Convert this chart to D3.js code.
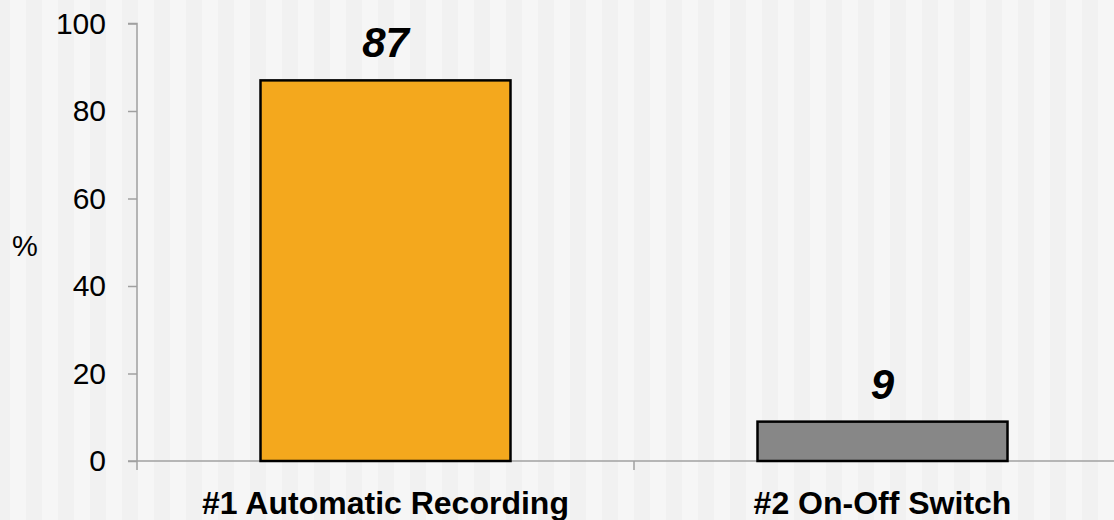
<!DOCTYPE html>
<html>
<head>
<meta charset="utf-8">
<script src="https://cdn.jsdelivr.net/npm/d3@7"></script>
<style>
  body { margin: 0; overflow: hidden; }
  text { font-family: "Liberation Sans", Arial, sans-serif; }
</style>
</head>
<body>
<div id="chart"></div>
<script>
var w = 1114;
var h = 520;

// data
var categories = ["#1 Automatic Recording", "#2 On-Off Switch"];
var values = [87, 9];
var barColors = ["#f4a81d", "#878787"];
var yTicks = [0, 20, 40, 60, 80, 100];

var svg = d3.select("#chart")
            .append("svg")
            .attr("width", w)
            .attr("height", h);

// striped background
var stripes = d3.range(-6, w, 16);
svg.selectAll(".stripe")
    .data(stripes)
    .enter()
    .append("rect")
    .attr("x", (d) => d)
    .attr("y", 0)
    .attr("width", 16)
    .attr("height", h)
    .style("fill", (d, i) => i % 2 === 0 ? "#f1f1f1" : "#f6f6f6");

// scales
const xScale = d3.scaleBand()
    .domain(categories)
    .range([137, 1131])
    .paddingInner(0)
    .paddingOuter(0);
const yScale = d3.scaleLinear()
    .domain([0, 100])
    .range([461, 23.5]);

var barW = 250;

// y axis
const yAxis = d3.axisLeft(yScale)
    .tickValues(yTicks)
    .tickSize(9)
    .tickPadding(22);
var gy = svg.append("g")
    .attr("transform", "translate(137, 0)")
    .call(yAxis);
gy.select(".domain").attr("stroke", "#a0a0a0").attr("stroke-width", 1.5)
    .attr("d", "M-9," + yScale(100) + "H0V" + yScale(0));
gy.selectAll(".tick line").attr("stroke", "#a0a0a0").attr("stroke-width", 1.5);
gy.selectAll(".tick text")
    .style("font-size", "30px")
    .style("fill", "#000");

// x axis
var gx = svg.append("g")
    .attr("transform", "translate(0," + yScale(0) + ")");
gx.append("line")
    .attr("x1", 128).attr("x2", w)
    .attr("y1", 0).attr("y2", 0)
    .attr("stroke", "#a0a0a0").attr("stroke-width", 1.5);
gx.selectAll(".xtick")
    .data([137, xScale(categories[1])])
    .enter()
    .append("line")
    .attr("x1", (d) => d).attr("x2", (d) => d)
    .attr("y1", 0).attr("y2", 9)
    .attr("stroke", "#a0a0a0").attr("stroke-width", 1.5);

// bars
svg.selectAll(".bar")
    .data(values)
    .enter()
    .append("rect")
    .attr("class", "bar")
    .attr("x", (d, i) => xScale(categories[i]) + xScale.bandwidth() / 2 - barW / 2)
    .attr("y", (d) => yScale(d))
    .attr("width", barW)
    .attr("height", (d) => yScale(0) - yScale(d))
    .style("fill", (d, i) => barColors[i])
    .style("stroke", "#000")
    .style("stroke-width", 2.5);

// value labels
svg.selectAll(".val")
    .data(values)
    .enter()
    .append("text")
    .attr("x", (d, i) => xScale(categories[i]) + xScale.bandwidth() / 2)
    .attr("y", (d) => yScale(d) - 23)
    .attr("text-anchor", "middle")
    .style("font-size", "42px")
    .style("font-weight", "bold")
    .style("font-style", "italic")
    .text((d) => d);

// category labels
svg.selectAll(".cat")
    .data(categories)
    .enter()
    .append("text")
    .attr("x", (d) => xScale(d) + xScale.bandwidth() / 2)
    .attr("y", 514)
    .attr("text-anchor", "middle")
    .style("font-size", "32px")
    .style("font-weight", "bold")
    .text((d) => d);

// y label
svg.append("text")
    .attr("x", 25)
    .attr("y", 256)
    .attr("text-anchor", "middle")
    .style("font-size", "29px")
    .text("%");
</script>
</body>
</html>
